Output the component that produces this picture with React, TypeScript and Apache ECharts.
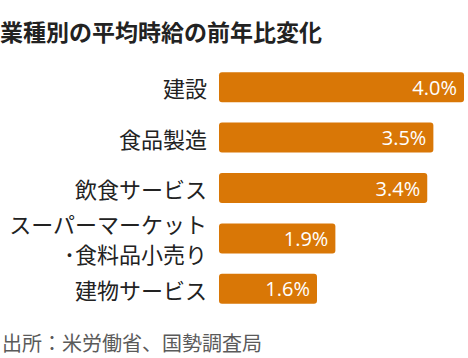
import React, { useEffect, useRef } from "react";
import * as echarts from "echarts";

const categories = ["建設", "食品製造", "飲食サービス", "スーパーマーケット\n･食料品小売り", "建物サービス"];
const values = [4.0, 3.5, 3.4, 1.9, 1.6];
const titleText = "業種別の平均時給の前年比変化";
const sourceText = "出所：米労働省、国勢調査局";

const JP = "'Noto Sans CJK JP', 'Noto Sans', sans-serif";

export default function App() {
  const ref = useRef<HTMLDivElement>(null);
  useEffect(() => {
    if (!ref.current) return;
    const chart = echarts.init(ref.current, undefined, { renderer: "svg" });
    chart.setOption({
      animation: false,
      backgroundColor: "#ffffff",
      title: [
        {
          text: titleText,
          left: 0,
          top: 19,
          padding: 0,
          textStyle: { fontFamily: JP, fontSize: 23, fontWeight: "bold", color: "#222222" },
        },
        {
          text: sourceText,
          left: 2,
          top: 332,
          padding: 0,
          textStyle: { fontFamily: JP, fontSize: 20, fontWeight: "normal", color: "#5a5a5a" },
        },
      ],
      grid: { left: 219, right: 4, top: 62, height: 252, containLabel: false },
      xAxis: { type: "value", min: 0, max: 4, show: false },
      yAxis: {
        type: "category",
        data: categories,
        inverse: true,
        axisLine: { show: false },
        axisTick: { show: false },
        splitLine: { show: false },
        axisLabel: {
          margin: 12,
          fontFamily: JP,
          fontSize: 22,
          color: "#222222",
          lineHeight: 30,
          align: "right",
        },
      },
      series: [
        {
          type: "bar",
          data: values,
          barWidth: 30,
          itemStyle: { color: "#D97706", borderRadius: 3 },
          label: {
            show: true,
            position: "insideRight",
            distance: 7,
            formatter: (p: any) => p.value.toFixed(1) + "%",
            color: "#ffffff",
            fontFamily: "'Open Sans', 'Noto Sans', sans-serif",
            fontSize: 20,
          },
        },
      ],
    });
    return () => chart.dispose();
  }, []);
  return <div ref={ref} style={{ position: "fixed", left: 0, top: 0, width: 468, height: 358 }} />;
}
